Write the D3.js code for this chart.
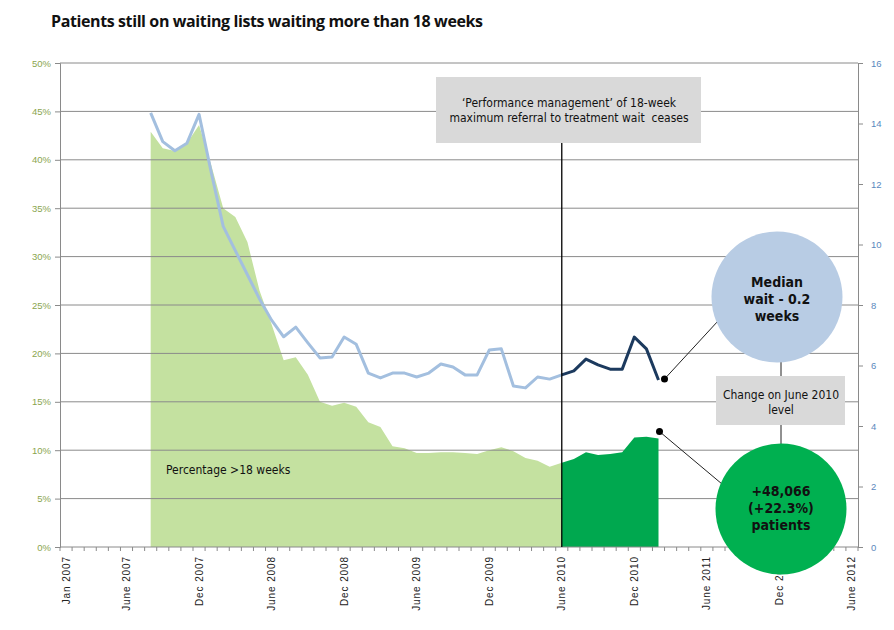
<!DOCTYPE html>
<html>
<head>
<meta charset="utf-8">
<script src="https://cdn.jsdelivr.net/npm/d3@7"></script>
<style>
  body { margin: 0; background: #fff; }
  svg { font-family: "DejaVu Sans Condensed", "DejaVu Sans", sans-serif; }
</style>
</head>
<body>
<div id="chart"></div>
<script>
// months shown on the category axis, Jan 2007 .. June 2012
const fmt = d3.timeFormat("%b %Y");
const months = d3.timeMonth.range(new Date(2007, 0, 1), new Date(2012, 6, 1)).map(fmt);
const tickLabels = {
  "Jan 2007": "Jan 2007", "Jun 2007": "June 2007", "Dec 2007": "Dec 2007",
  "Jun 2008": "June 2008", "Dec 2008": "Dec 2008", "Jun 2009": "June 2009",
  "Dec 2009": "Dec 2009", "Jun 2010": "June 2010", "Dec 2010": "Dec 2010",
  "Jun 2011": "June 2011", "Dec 2011": "Dec 2011", "Jun 2012": "June 2012"
};

// series, monthly from Aug 2007 to Feb 2011
const dataMonths = d3.timeMonth.range(new Date(2007, 7, 1), new Date(2011, 2, 1)).map(fmt);
const pctOver18 = [42.9, 41.2, 40.9, 41.7, 43.6, 39.5, 35.0, 34.1, 31.5, 26.5, 23.0, 19.3, 19.6, 17.8,
  15.0, 14.6, 14.9, 14.5, 12.9, 12.4, 10.4, 10.2, 9.7, 9.7, 9.8, 9.8, 9.7, 9.6, 10.0, 10.3, 9.9,
  9.2, 8.9, 8.3, 8.7, 9.1, 9.8, 9.5, 9.6, 9.8, 11.3, 11.4, 11.2];
const medianWait = [14.35, 13.4, 13.1, 13.35, 14.3, 12.4, 10.6, 9.8, 9.0, 8.2, 7.5, 6.95, 7.27, 6.75,
  6.25, 6.28, 6.94, 6.7, 5.75, 5.59, 5.75, 5.75, 5.62, 5.75, 6.05, 5.95, 5.69, 5.69, 6.51, 6.55, 5.32,
  5.26, 5.62, 5.55, 5.69, 5.82, 6.21, 6.02, 5.88, 5.88, 6.94, 6.55, 5.52];
const splitMonth = "Jun 2010";

const pctTicks = [0, 5, 10, 15, 20, 25, 30, 35, 40, 45, 50];
const weekTicks = [0, 2, 4, 6, 8, 10, 12, 14, 16];

const width = 894, height = 630;
const plotL = 60, plotR = 858, plotT = 63, plotB = 547;

const svg = d3.select("#chart").append("svg")
  .attr("width", width)
  .attr("height", height);

const x = d3.scaleBand().domain(months).range([plotL, plotR]).padding(0);
const cx = (m) => x(m) + x.bandwidth() / 2;
const yPct = d3.scaleLinear().domain([0, 50]).range([plotB, plotT]);
const yWk = d3.scaleLinear().domain([0, 16]).range([plotB, plotT]);

const rows = dataMonths.map((m, i) => ({ m: m, pct: pctOver18[i], wk: medianWait[i] }));
const split = dataMonths.indexOf(splitMonth);
const before = rows.slice(0, split + 1);
const after = rows.slice(split);

// title
svg.append("text")
  .attr("x", 51).attr("y", 27)
  .attr("font-family", "'Open Sans', sans-serif")
  .attr("font-weight", "bold")
  .attr("font-size", 16)
  .attr("textLength", 432)
  .attr("fill", "#111")
  .text("Patients still on waiting lists waiting more than 18 weeks");

const area = d3.area()
  .x((d) => cx(d.m))
  .y0(yPct(0))
  .y1((d) => yPct(d.pct));

svg.append("path").datum(before)
  .attr("d", area)
  .attr("fill", "#c4e1a0");

// gridlines
svg.append("g").selectAll("line")
  .data(pctTicks.slice(1))
  .enter().append("line")
  .attr("x1", plotL).attr("x2", plotR)
  .attr("y1", (d) => yPct(d)).attr("y2", (d) => yPct(d))
  .attr("stroke", "#8a8a8a")
  .attr("stroke-width", 1);

svg.append("path").datum(after)
  .attr("d", area)
  .attr("fill", "#00a84f");

// left axis
const yAxisL = d3.axisLeft(yPct).tickValues(pctTicks).tickSize(5).tickFormat((d) => d + "%");
const gl = svg.append("g").attr("transform", "translate(" + plotL + ",0)").call(yAxisL);
gl.select(".domain").attr("stroke", "#8a8a8a");
gl.selectAll(".tick line").attr("stroke", "#8a8a8a");
gl.selectAll("text").attr("fill", "#8aa54e").attr("font-size", 9.5).attr("x", -9);

// right axis
const yAxisR = d3.axisRight(yWk).tickValues(weekTicks).tickSize(5);
const gr = svg.append("g").attr("transform", "translate(" + plotR + ",0)").call(yAxisR);
gr.select(".domain").attr("stroke", "#8a8a8a");
gr.selectAll(".tick line").attr("stroke", "#8a8a8a");
gr.selectAll("text").attr("fill", "#5b89bd").attr("font-size", 9.5).attr("x", 13);

// x axis with a tick per month
const gx = svg.append("g").attr("transform", "translate(0," + plotB + ")");
gx.append("line").attr("x1", plotL).attr("x2", plotR).attr("stroke", "#8a8a8a");
gx.selectAll("line.tk")
  .data(months.concat(["end"]))
  .enter().append("line")
  .attr("class", "tk")
  .attr("x1", (d, i) => plotL + i * x.bandwidth())
  .attr("x2", (d, i) => plotL + i * x.bandwidth())
  .attr("y1", 0).attr("y2", 4)
  .attr("stroke", "#8a8a8a");
gx.selectAll("text")
  .data(months.filter((m) => tickLabels[m]))
  .enter().append("text")
  .attr("transform", (d) => "translate(" + (cx(d) + 3.5) + ",9) rotate(-90)")
  .attr("text-anchor", "end")
  .attr("font-family", "'Liberation Sans', Arial, sans-serif")
  .attr("font-size", 10)
  .attr("letter-spacing", 0.9)
  .attr("fill", "#222")
  .text((d) => tickLabels[d]);

// median wait lines
const line = d3.line()
  .x((d) => cx(d.m))
  .y((d) => yWk(d.wk));

svg.append("path").datum(before)
  .attr("d", line)
  .attr("fill", "none")
  .attr("stroke", "#a3bfdf")
  .attr("stroke-width", 3)
  .attr("stroke-linejoin", "round");

svg.append("path").datum(after)
  .attr("d", line)
  .attr("fill", "none")
  .attr("stroke", "#1c3a5e")
  .attr("stroke-width", 3)
  .attr("stroke-linejoin", "round");

svg.append("text")
  .attr("x", 166).attr("y", 474)
  .attr("font-size", 12)
  .attr("fill", "#111")
  .text("Percentage >18 weeks");

// performance management annotation
const xSplit = cx(splitMonth);
svg.append("line")
  .attr("x1", xSplit).attr("x2", xSplit)
  .attr("y1", 143).attr("y2", plotB)
  .attr("stroke", "#000").attr("stroke-width", 1.3);
svg.append("rect")
  .attr("x", 436).attr("y", 77).attr("width", 265).attr("height", 66)
  .attr("fill", "#d9d9d9");
const pm = svg.append("text")
  .attr("text-anchor", "middle")
  .attr("font-size", 12)
  .attr("fill", "#111")
  .style("white-space", "pre");
pm.append("tspan").attr("x", 569).attr("y", 107).text("\u2018Performance management\u2019 of 18-week");
pm.append("tspan").attr("x", 569).attr("y", 122).text("maximum referral to treatment wait  ceases");

// change callouts
const last = rows[rows.length - 1];
const dotTop = [cx(last.m) + 6, yWk(last.wk) - 1];
const dotBot = [cx(last.m) + 1, yPct(last.pct) - 7];

svg.append("line")
  .attr("x1", dotTop[0]).attr("y1", dotTop[1]).attr("x2", 718).attr("y2", 321)
  .attr("stroke", "#222").attr("stroke-width", 1);
svg.append("line")
  .attr("x1", dotBot[0]).attr("y1", dotBot[1]).attr("x2", 722).attr("y2", 484)
  .attr("stroke", "#222").attr("stroke-width", 1);
svg.append("line")
  .attr("x1", 781).attr("x2", 781).attr("y1", 360).attr("y2", 446)
  .attr("stroke", "#222").attr("stroke-width", 1);

svg.append("circle").attr("cx", dotTop[0]).attr("cy", dotTop[1]).attr("r", 3.5).attr("fill", "#000");
svg.append("circle").attr("cx", dotBot[0]).attr("cy", dotBot[1]).attr("r", 3.5).attr("fill", "#000");

svg.append("circle").attr("cx", 777).attr("cy", 297).attr("r", 65.5).attr("fill", "#b8cce4");
svg.append("circle").attr("cx", 781).attr("cy", 509).attr("r", 65.5).attr("fill", "#00b050");

svg.append("rect")
  .attr("x", 716).attr("y", 376).attr("width", 129).attr("height", 49)
  .attr("fill", "#d9d9d9");
const ch = svg.append("text")
  .attr("text-anchor", "middle")
  .attr("font-size", 12)
  .attr("fill", "#111");
ch.append("tspan").attr("x", 781).attr("y", 399).text("Change on June 2010");
ch.append("tspan").attr("x", 781).attr("y", 414).text("level");

const med = svg.append("text")
  .attr("text-anchor", "middle")
  .attr("font-size", 14)
  .attr("font-weight", "bold")
  .attr("fill", "#111");
["Median", "wait - 0.2", "weeks"].forEach((t, i) => {
  med.append("tspan").attr("x", 777).attr("y", 287 + i * 17).text(t);
});

const pat = svg.append("text")
  .attr("text-anchor", "middle")
  .attr("font-size", 14)
  .attr("font-weight", "bold")
  .attr("fill", "#111");
["+48,066", "(+22.3%)", "patients"].forEach((t, i) => {
  pat.append("tspan").attr("x", 781).attr("y", 496 + i * 17).text(t);
});
</script>
</body>
</html>
